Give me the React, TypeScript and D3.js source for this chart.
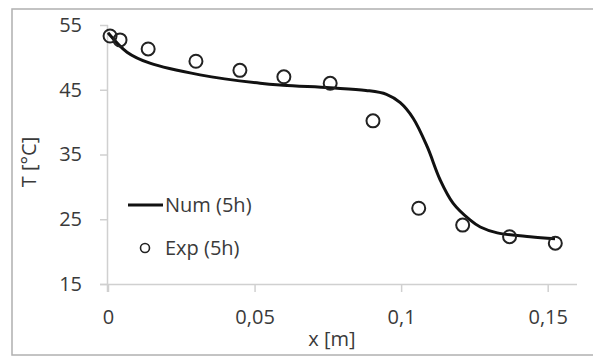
import { useEffect, useRef } from "react";
import * as d3 from "d3";

// numerical profile (5h)
const numX = [0, 0.0065, 0.0143, 0.0314, 0.0519, 0.0597, 0.0758, 0.0880, 0.0950, 0.0997, 0.1041, 0.1089, 0.1133, 0.1177, 0.1235, 0.1270, 0.1328, 0.1440, 0.1525];
const numT = [53.8, 50.8, 49.1, 47.3, 46.0, 45.7, 45.3, 44.9, 44.3, 43.0, 40.6, 36.2, 31.1, 27.5, 24.9, 23.8, 22.9, 22.3, 22.0];

// experimental points (5h)
const expX = [0.0007, 0.0041, 0.0137, 0.030, 0.045, 0.060, 0.0758, 0.0904, 0.106, 0.121, 0.137, 0.1526];
const expT = [53.3, 52.7, 51.3, 49.4, 48.0, 47.0, 46.0, 40.2, 26.7, 24.1, 22.3, 21.3];

const xTicks = [0, 0.05, 0.1, 0.15];
const yTicks = [15, 25, 35, 45, 55];
const legendLabels = ["Num (5h)", "Exp (5h)"];

const W = 593;
const H = 357;
const FONT = "'Open Sans', sans-serif";

export default function App() {
  const ref = useRef<SVGSVGElement>(null);

  useEffect(() => {
    const svg = d3.select(ref.current);
    svg.selectAll("*").remove();

    const x = d3.scaleLinear().domain([0, 0.16]).range([108, 577]);
    const y = d3.scaleLinear().domain([15, 55]).range([284, 25]);

    // outer chart frame
    svg
      .append("rect")
      .attr("x", 12)
      .attr("y", 9)
      .attr("width", W + 10)
      .attr("height", 346)
      .attr("fill", "#fff")
      .attr("stroke", "#b0b0b0")
      .attr("stroke-width", 1.5);

    const axisColor = "#d0d0d0";

    // x axis
    const gx = svg
      .append("g")
      .attr("transform", `translate(0,${y(15)})`)
      .call(
        d3
          .axisBottom(x)
          .tickValues(xTicks)
          .tickSize(8)
          .tickPadding(18)
          .tickFormat((d) => d3.format("")(+d).replace(".", ","))
      );
    gx.select(".domain").attr("stroke", axisColor).attr("stroke-width", 1.5).attr("d", `M100,0.5H577`);
    gx.selectAll(".tick line").attr("stroke", axisColor).attr("stroke-width", 1.5);
    gx.selectAll(".tick text")
      .attr("fill", "#3a3a3a")
      .style("font-family", FONT)
      .style("font-size", "20px");

    // y axis
    const gy = svg
      .append("g")
      .attr("transform", `translate(${x(0)},0)`)
      .call(d3.axisLeft(y).tickValues(yTicks).tickSize(8).tickPadding(18));
    gy.select(".domain").attr("stroke", axisColor).attr("stroke-width", 1.5).attr("d", `M-0.5,25V292`);
    gy.selectAll(".tick line").attr("stroke", axisColor).attr("stroke-width", 1.5);
    gy.selectAll(".tick text")
      .attr("fill", "#3a3a3a")
      .style("font-family", FONT)
      .style("font-size", "20px");

    // axis titles
    svg
      .append("text")
      .attr("x", 332)
      .attr("y", 346)
      .attr("text-anchor", "middle")
      .attr("fill", "#3a3a3a")
      .style("font-family", FONT)
      .style("font-size", "20px")
      .text("x [m]");
    svg
      .append("text")
      .attr("transform", "translate(36,162) rotate(-90)")
      .attr("text-anchor", "middle")
      .attr("fill", "#3a3a3a")
      .style("font-family", FONT)
      .style("font-size", "20px")
      .text("T [°C]");

    // numerical curve
    const line = d3
      .line<number>()
      .x((_, i) => x(numX[i]))
      .y((d) => y(d))
      .curve(d3.curveCatmullRom.alpha(0.5));
    svg
      .append("path")
      .datum(numT)
      .attr("d", line)
      .attr("fill", "none")
      .attr("stroke", "#111")
      .attr("stroke-width", 3);

    // experimental circles
    svg
      .append("g")
      .selectAll("circle")
      .data(expT)
      .join("circle")
      .attr("cx", (_, i) => x(expX[i]))
      .attr("cy", (d) => y(d))
      .attr("r", 6.5)
      .attr("fill", "none")
      .attr("stroke", "#222")
      .attr("stroke-width", 2);

    // legend
    const lg = svg.append("g");
    lg.append("line")
      .attr("x1", 128)
      .attr("x2", 163)
      .attr("y1", 205)
      .attr("y2", 205)
      .attr("stroke", "#111")
      .attr("stroke-width", 3);
    lg.append("circle")
      .attr("cx", 145)
      .attr("cy", 248)
      .attr("r", 4.5)
      .attr("fill", "none")
      .attr("stroke", "#222")
      .attr("stroke-width", 1.6);
    lg.selectAll("text")
      .data(legendLabels)
      .join("text")
      .attr("x", 165)
      .attr("y", (_, i) => 212 + i * 43)
      .attr("fill", "#3a3a3a")
      .style("font-family", FONT)
      .style("font-size", "20px")
      .text((d) => d);
  }, []);

  return (
    <svg
      ref={ref}
      width={W}
      height={H}
      style={{ position: "absolute", left: 0, top: 0, background: "#fff" }}
    />
  );
}
